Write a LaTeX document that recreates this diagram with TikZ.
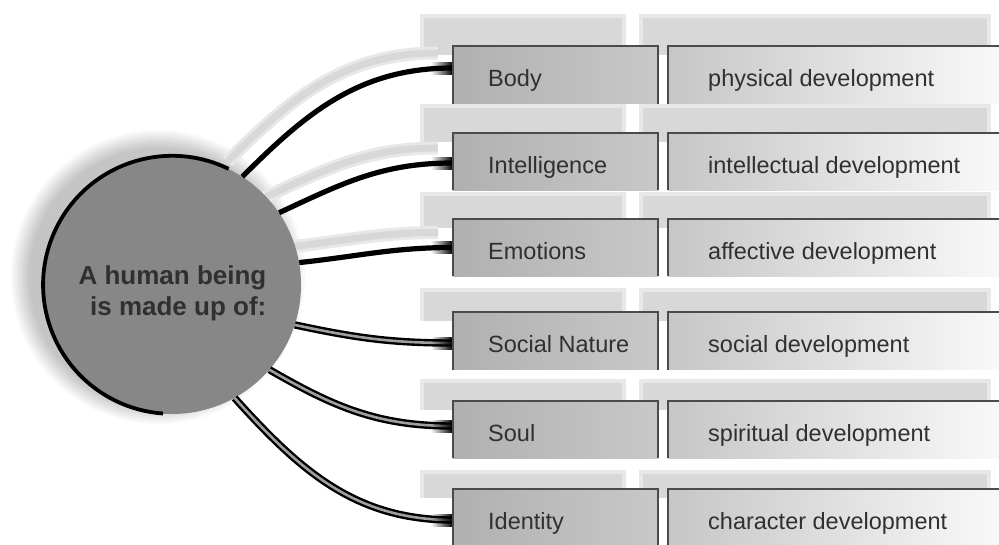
\documentclass[tikz,border=0pt]{standalone}
\usepackage{fontspec}
\setmainfont{Liberation Sans}
\usetikzlibrary{fadings}
\definecolor{txt}{RGB}{48,48,48}
\definecolor{circfill}{RGB}{135,135,135}
\definecolor{shad}{RGB}{216,216,216}
\definecolor{shadsoft}{RGB}{232,232,232}
\definecolor{lblL}{RGB}{176,176,176}
\definecolor{lblR}{RGB}{200,200,200}
\definecolor{devL}{RGB}{198,198,198}
\definecolor{devR}{RGB}{250,250,250}
\definecolor{edge}{RGB}{75,75,75}
\tikzfading[name=plugfade, left color=transparent!100, right color=transparent!0]
\begin{document}
\begin{tikzpicture}[x=1pt,y=1pt,
  lblbox/.style={rectangle, minimum width=205pt, minimum height=57pt, inner sep=0pt, left color=lblL, right color=lblR},
  devbox/.style={rectangle, minimum width=340pt, minimum height=57pt, inner sep=0pt, left color=devL, right color=devR},
  boxedge/.style={draw=edge, line width=2.2pt},
  lbltext/.style={font=\fontsize{23.5}{28}\selectfont, text=txt, anchor=base west, inner sep=0pt},
  conn/.style={line width=5.2pt, black},
  tube/.style={line width=2.4pt, black, double=gray!75, double distance=2.6pt},
  plug/.style={fill=black, path fading=plugfade}
]
\useasboundingbox (0,0) rectangle (999,-544);
\clip (0,0) rectangle (999,-544);
\fill[white] (0,0) rectangle (999,-544);

% box shadows
\foreach \y/\o in {75/30,161.5/26,247.5/24,341/22,429.5/19,518/17}{
  \fill[shadsoft] (420,{-\y+31.5+\o}) rectangle (626,{-\y+20});
  \fill[shadsoft] (639,{-\y+31.5+\o}) rectangle (991,{-\y+20});
  \fill[shad] (424,{-\y+27.5+\o}) rectangle (622,{-\y+20});
  \fill[shad] (643,{-\y+27.5+\o}) rectangle (987,{-\y+20});
}

% circle shadow
\foreach \r in {129,131,...,147}{
  \fill[black, opacity=0.025] (158,-277) circle[radius=\r];
}

% nodes
\node[circle, minimum size=258pt, inner sep=0pt] (c) at (172,-285) {};

\foreach \i/\y in {1/75,2/161.5,3/247.5,4/341,5/429.5,6/518}{
  \node[lblbox] (l\i) at (555.5,-\y) {};
  \node[devbox] (d\i) at (838,-\y) {};
}

\coordinate (e1) at ([yshift=7pt]l1.west);
\coordinate (e2) at ([yshift=-1.5pt]l2.west);
\coordinate (e3) at (l3.west);
\coordinate (e4) at ([yshift=-2pt]l4.west);
\coordinate (e5) at ([yshift=3.5pt]l5.west);
\coordinate (e6) at ([yshift=-2pt]l6.west);

% connector shadows (behind the circle)
\begin{scope}[transform canvas={shift={(-15pt,15pt)}}]
  \foreach \w/\col in {13/shadsoft,7/shad}{
    \draw[line width=\w pt, \col] (c.57) to[out=45,in=180] (e1);
    \draw[line width=\w pt, \col] (c.34) to[out=25,in=180] (e2);
    \draw[line width=\w pt, \col] (c.10) to[out=6,in=180] (e3);
  }
\end{scope}

% circle body and rim
\fill[circfill] (c.center) circle[radius=129pt];
\draw[line width=3.8pt] (c.64) arc[start angle=64, end angle=266, radius=129pt];

% connectors
\draw[conn] (c.57) to[out=45,in=180] (e1);
\draw[conn] (c.34) to[out=25,in=180] (e2);
\draw[conn] (c.10) to[out=6,in=180] (e3);
\draw[tube] (c.-18) to[out=-12,in=180] (e4);
\draw[tube] (c.-41) to[out=-30,in=180] (e5);
\draw[tube] (c.-61) to[out=-48,in=180] (e6);

\foreach \i in {1,...,6}{
  \fill[plug] ([shift={(-22,-6.5)}]e\i) rectangle ([shift={(0,6.5)}]e\i);
  \draw[boxedge] (l\i.south west) -- (l\i.north west) -- (l\i.north east) -- (l\i.south east);
  \draw[boxedge] (d\i.south west) -- (d\i.north west) -- (d\i.north east);
}

% texts
\foreach \i/\y/\a/\b in {1/75/Body/physical development,
                        2/161.5/Intelligence/intellectual development,
                        3/247.5/Emotions/affective development,
                        4/341/Social Nature/social development,
                        5/429.5/Soul/spiritual development,
                        6/518/Identity/character development}{
  \node[lbltext] (lt\i) at (488,{-\y-11.5}) {\a};
  \node[lbltext] (dt\i) at (708,{-\y-11.5}) {\b};
}

\node[font=\bfseries\fontsize{26}{31}\selectfont, text=txt, align=right, inner sep=0pt] (ct) at (172.5,-293) {A human being\\is made up of:};
\end{tikzpicture}
\end{document}
